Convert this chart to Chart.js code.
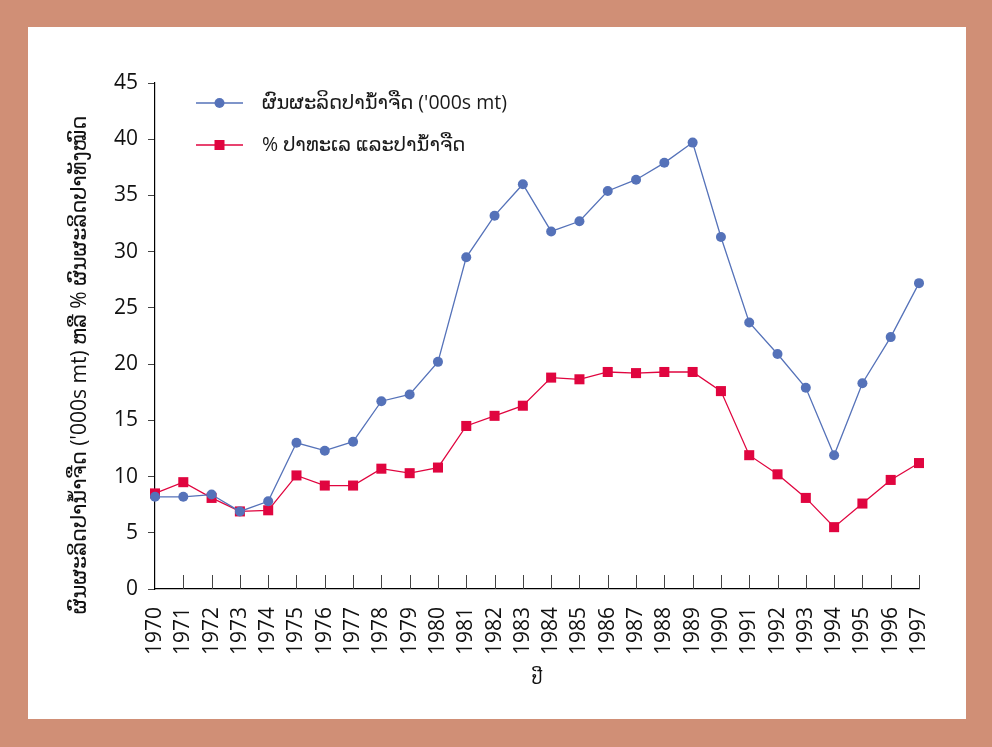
<!DOCTYPE html>
<html><head><meta charset="utf-8">
<script src="https://cdn.jsdelivr.net/npm/chart.js@4/dist/chart.umd.min.js"></script>
<style>
html,body{margin:0;padding:0;background:#d08f76;width:992px;height:747px;overflow:hidden}
#box{position:absolute;left:28px;top:27px;width:938px;height:692px;background:#fff}
canvas{display:block}
</style></head><body>
<div id="box"><canvas id="c" width="938" height="692"></canvas></div>
<script>
const years = ['1970','1971','1972','1973','1974','1975','1976','1977','1978','1979','1980','1981','1982','1983','1984','1985','1986','1987','1988','1989','1990','1991','1992','1993','1994','1995','1996','1997'];
const freshwaterProduction = [8.2,8.2,8.4,6.9,7.8,13.0,12.3,13.1,16.7,17.3,20.2,29.5,33.2,36.0,31.8,32.7,35.4,36.4,37.9,39.7,31.3,23.7,20.9,17.9,11.9,18.3,22.4,27.2];
const marineFreshPercent = [8.5,9.5,8.1,6.9,7.0,10.1,9.2,9.2,10.7,10.3,10.8,14.5,15.4,16.3,18.8,18.65,19.3,19.2,19.3,19.3,17.6,11.9,10.2,8.1,5.5,7.6,9.7,11.2];
const yTicks = [0,5,10,15,20,25,30,35,40,45];
const seriesNames = ["ຜົນຜະລິດປານ້ຳຈືດ ('000s mt)", "% ປາທະເລ ແລະປານ້ຳຈືດ"];
const yTitle = "ຜົນຜະລິດປານ້ຳຈືດ ('000s mt) ຫລື % ຜົນຜະລິດປາທັງໝົດ";
const xTitle = "ປີ";

const FONT = "'Open Sans', 'DejaVu Sans', sans-serif";
const BLUE = '#5572b9', RED = '#e0053f';

const innerTicks = {
  id:'innerTicks',
  afterDatasetsDraw(chart){
    const ctx = chart.ctx, xs = chart.scales.x, ys = chart.scales.y;
    ctx.save();
    ctx.strokeStyle = '#444'; ctx.lineWidth = 1;
    const b = Math.round(ys.getPixelForValue(0));
    for (let i=1;i<years.length;i++){
      const x = Math.round(xs.getPixelForTick(i))+0.5;
      ctx.beginPath(); ctx.moveTo(x,b); ctx.lineTo(x,b-14); ctx.stroke();
    }
    ctx.restore();
  }
};

const yTitlePlugin = {
  id:'yTitle',
  afterDraw(chart){
    const ctx = chart.ctx;
    ctx.save();
    ctx.translate(52, 338);
    ctx.rotate(-Math.PI/2);
    ctx.fillStyle = '#111';
    ctx.font = '21px ' + FONT;
    ctx.textAlign = 'center';
    ctx.textBaseline = 'middle';
    ctx.fillText(yTitle, 0, 0);
    ctx.restore();
  }
};

const legendPlugin = {
  id:'insideLegend',
  afterDraw(chart){
    const ctx = chart.ctx;
    const items = [{c:BLUE, s:'circle'},{c:RED, s:'rect'}];
    const x0 = 168, x1 = 215, tx = 234;
    const ys = [76, 118];
    ctx.save();
    items.forEach((it,i)=>{
      const y = ys[i];
      ctx.strokeStyle = it.c; ctx.lineWidth = 1.3;
      ctx.beginPath(); ctx.moveTo(x0,y); ctx.lineTo(x1,y); ctx.stroke();
      ctx.fillStyle = it.c;
      const cx = (x0+x1)/2;
      if (it.s==='circle'){ ctx.beginPath(); ctx.arc(cx,y,5,0,Math.PI*2); ctx.fill(); }
      else { ctx.fillRect(cx-5,y-5,10,10); }
      ctx.fillStyle = '#1a1a1a';
      ctx.font = '19.5px ' + FONT;
      ctx.textBaseline = 'middle';
      ctx.fillText(seriesNames[i], tx, y);
    });
    ctx.restore();
  }
};

new Chart(document.getElementById('c'), {
  type:'line',
  data:{
    labels: years,
    datasets:[
      {label:seriesNames[0], data:freshwaterProduction, borderColor:BLUE, backgroundColor:BLUE, borderWidth:1.3, pointStyle:'circle', pointRadius:5, pointBorderWidth:0, tension:0},
      {label:seriesNames[1], data:marineFreshPercent, borderColor:RED, backgroundColor:RED, borderWidth:1.3, pointStyle:'rect', pointRadius:7.1, pointBorderWidth:0, tension:0}
    ]
  },
  options:{
    responsive:false, animation:false,
    layout:{padding:{left:0,right:47,top:56,bottom:0}},
    plugins:{legend:{display:false}, tooltip:{enabled:false}},
    scales:{
      x:{
        offset:false,
        grid:{display:true, drawOnChartArea:false, drawTicks:false},
        border:{color:'#000', width:1.2},
        ticks:{color:'#111', font:{family:FONT, size:21}, maxRotation:90, minRotation:90, padding:18, autoSkip:false},
        title:{display:true, text:xTitle, color:'#111', font:{family:FONT, size:17}, padding:{top:0,bottom:30}},
        afterFit(s){ s.height = 130; }
      },
      y:{
        min:0, max:45,
        afterBuildTicks(s){ s.ticks = yTicks.map(v=>({value:v})); },
        grid:{display:true, drawOnChartArea:false, drawTicks:true, tickLength:7, color:'#444'},
        border:{color:'#000', width:1.2},
        ticks:{color:'#111', font:{family:FONT, size:21}, padding:10},
        title:{display:false},
        afterFit(s){ s.width = 127; }
      }
    }
  },
  plugins:[innerTicks, legendPlugin, yTitlePlugin]
});
</script>
</body></html>
